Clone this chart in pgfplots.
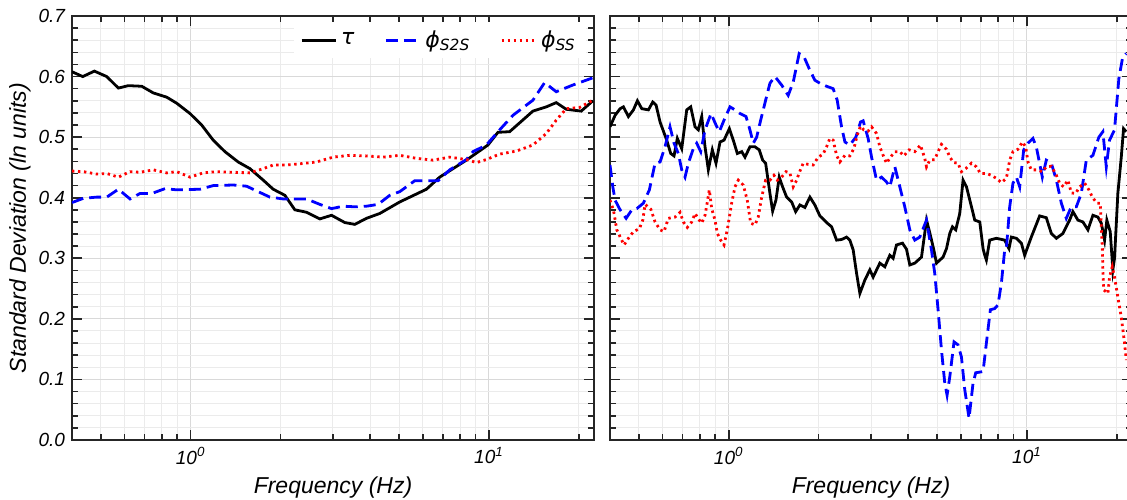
\documentclass[border=0pt]{standalone}
\usepackage{fontspec}
\setmainfont{Liberation Sans}
\newfontfamily\lgfont{DejaVu Sans}
\usepackage{pgfplots}
\pgfplotsset{compat=1.18}

\pgfplotsset{
  sdpanel/.style={
    scale only axis, width=261pt, height=212pt,
    xmin=0.4, xmax=22.5, ymin=0, ymax=0.7,
    xtick={1,10}, xticklabels={10\textsuperscript{0},10\textsuperscript{1}},
    minor xtick={0.4,0.5,0.6,0.7,0.8,0.9,2,3,4,5,6,7,8,9,20},
    ytick={0,0.1,0.2,0.3,0.4,0.5,0.6,0.7}, minor y tick num=4,
    tick align=inside, major tick length=5pt, minor tick length=3pt,
    grid=both,
    major grid style={gray!30, line width=0.5pt},
    minor grid style={gray!16, line width=0.5pt},
    axis line style={black!85, line width=1pt},
    tick style={black!85, line width=0.8pt},
    tick label style={font=\fontsize{9.5}{10}\selectfont\itshape},
    yticklabel style={/pgf/number format/fixed, /pgf/number format/fixed zerofill, /pgf/number format/precision=1, /pgf/number format/assume math mode=true},
    label style={font=\fontsize{11.5}{14}\selectfont\itshape},
    xlabel={Frequency (Hz)},
    xlabel style={at={(axis description cs:0.5,-0.111)}, anchor=center},
  },
  sdtau/.style={draw=black, line width=1.4pt},
  sds2s/.style={draw=blue, line width=1.4pt, dash pattern=on 6pt off 3pt},
  sdss/.style={draw=red, line width=1.4pt, dash pattern=on 1.2pt off 1.8pt},
}

\begin{document}
\begin{tikzpicture}
\path[use as bounding box] (-36pt,-29.5pt) rectangle (527.5pt,220pt);

\begin{semilogxaxis}[sdpanel, at={(0pt,0pt)}, anchor=south west,
  ylabel={Standard Deviation (ln units)},
  ylabel style={at={(axis description cs:-0.0996,0.5)}, anchor=center},
  legend style={at={(0.705,0.943)}, anchor=center, draw=none, fill=white,
    legend columns=3, font=\lgfont\fontsize{11}{13}\selectfont,
    /tikz/every even column/.append style={column sep=13pt}},
]
\addplot[sdtau] table {
0.40 0.608
0.4346 0.600
0.4755 0.609
0.5232 0.600
0.5722 0.581
0.6180 0.585
0.6853 0.584
0.7494 0.573
0.8310 0.566
0.8976 0.556
0.9947 0.539
1.0885 0.520
1.190 0.495
1.303 0.476
1.443 0.459
1.580 0.448
1.751 0.429
1.891 0.414
2.069 0.404
2.235 0.380
2.446 0.376
2.710 0.365
2.966 0.371
3.287 0.359
3.551 0.356
3.886 0.366
4.305 0.374
5.023 0.393
6.171 0.414
6.838 0.434
8.400 0.462
9.922 0.487
10.72 0.508
11.73 0.509
14.04 0.543
15.57 0.550
16.81 0.557
18.16 0.546
20.39 0.543
22.30 0.560
};
\addlegendentry{\itshape τ}
\addplot[sds2s] table {
0.40 0.392
0.4367 0.399
0.4844 0.401
0.5232 0.401
0.5722 0.414
0.6261 0.398
0.6765 0.407
0.7404 0.407
0.8202 0.415
0.8976 0.413
1.074 0.414
1.190 0.420
1.389 0.421
1.540 0.419
1.684 0.410
1.843 0.401
2.042 0.398
2.323 0.398
2.446 0.398
2.710 0.389
2.966 0.382
3.245 0.386
3.551 0.385
3.886 0.386
4.249 0.389
4.651 0.404
5.023 0.410
5.639 0.428
6.749 0.428
7.387 0.446
8.400 0.463
8.841 0.476
9.802 0.487
10.86 0.512
12.03 0.536
14.04 0.561
15.37 0.590
16.81 0.575
19.11 0.586
22.30 0.598
};
\addlegendentry{\itshape ϕ\textsubscript{S2S}}
\addplot[sdss] table {
0.40 0.444
0.4367 0.443
0.4844 0.439
0.5232 0.440
0.5722 0.434
0.6261 0.443
0.6765 0.442
0.7494 0.446
0.8310 0.441
0.8976 0.443
0.9947 0.434
1.102 0.441
1.222 0.443
1.389 0.442
1.580 0.441
1.751 0.448
1.891 0.454
2.097 0.454
2.323 0.456
2.642 0.459
3.003 0.467
3.417 0.470
3.886 0.469
4.416 0.467
5.023 0.470
5.713 0.465
6.494 0.462
7.387 0.467
8.400 0.463
9.076 0.458
9.802 0.463
10.86 0.472
12.35 0.477
14.04 0.487
15.57 0.506
16.81 0.528
18.16 0.547
20.13 0.549
22.30 0.561
};
\addlegendentry{\itshape ϕ\textsubscript{SS}}
\end{semilogxaxis}

\begin{semilogxaxis}[sdpanel, at={(269pt,0pt)}, anchor=south west, yticklabels={}]
\addplot[sdtau] table {
0.400 0.517
0.4160 0.536
0.4325 0.547
0.4436 0.550
0.4611 0.534
0.4792 0.545
0.4942 0.560
0.5112 0.547
0.5380 0.545
0.5565 0.558
0.5708 0.553
0.5887 0.525
0.6198 0.495
0.6393 0.473
0.6557 0.469
0.6727 0.498
0.6959 0.481
0.7233 0.545
0.7460 0.550
0.7713 0.517
0.7912 0.512
0.8121 0.534
0.8330 0.484
0.8545 0.446
0.8813 0.479
0.9067 0.457
0.9352 0.492
0.9645 0.495
1.005 0.514
1.036 0.495
1.069 0.473
1.106 0.476
1.134 0.467
1.178 0.484
1.225 0.484
1.266 0.479
1.300 0.462
1.330 0.457
1.375 0.407
1.404 0.378
1.440 0.396
1.477 0.434
1.516 0.418
1.564 0.401
1.626 0.393
1.677 0.377
1.733 0.388
1.801 0.384
1.872 0.401
1.945 0.388
2.022 0.370
2.129 0.359
2.213 0.352
2.300 0.330
2.390 0.331
2.484 0.335
2.548 0.330
2.614 0.314
2.684 0.275
2.753 0.242
2.861 0.264
2.973 0.281
3.050 0.269
3.212 0.292
3.338 0.286
3.469 0.305
3.559 0.300
3.653 0.322
3.826 0.325
3.946 0.315
4.048 0.289
4.207 0.292
4.430 0.302
4.605 0.363
4.723 0.342
4.872 0.314
4.974 0.292
5.234 0.302
5.373 0.316
5.510 0.341
5.626 0.352
5.771 0.347
5.952 0.374
6.106 0.429
6.269 0.418
6.516 0.385
6.684 0.363
6.947 0.360
7.126 0.316
7.220 0.305
7.311 0.297
7.501 0.330
7.897 0.333
8.421 0.330
8.704 0.316
8.867 0.335
9.216 0.333
9.578 0.325
9.824 0.305
10.34 0.335
11.03 0.370
11.61 0.367
12.07 0.341
12.55 0.333
13.20 0.341
13.90 0.363
14.26 0.377
14.82 0.363
15.40 0.360
16.01 0.347
16.64 0.371
17.29 0.368
17.75 0.358
18.21 0.330
18.53 0.363
19.02 0.344
19.41 0.281
19.66 0.300
20.17 0.407
20.71 0.467
21.08 0.514
21.52 0.509
};
\addplot[sds2s] table {
0.400 0.454
0.4088 0.418
0.4160 0.396
0.4325 0.380
0.4530 0.366
0.4733 0.380
0.4919 0.382
0.5176 0.391
0.5421 0.413
0.5664 0.457
0.5887 0.459
0.6117 0.484
0.6357 0.517
0.6557 0.490
0.6779 0.473
0.6959 0.446
0.7139 0.434
0.7324 0.457
0.7611 0.481
0.7814 0.490
0.8058 0.476
0.8330 0.512
0.8724 0.539
0.9067 0.520
0.9300 0.509
0.9645 0.528
1.010 0.550
1.050 0.545
1.091 0.539
1.143 0.534
1.178 0.512
1.209 0.490
1.241 0.500
1.280 0.528
1.330 0.561
1.375 0.589
1.429 0.600
1.505 0.586
1.583 0.569
1.646 0.591
1.723 0.638
1.787 0.633
1.862 0.613
1.945 0.594
2.022 0.589
2.129 0.584
2.240 0.580
2.311 0.561
2.390 0.517
2.453 0.492
2.548 0.487
2.669 0.500
2.767 0.525
2.823 0.527
2.934 0.498
3.013 0.467
3.131 0.429
3.254 0.434
3.382 0.426
3.469 0.418
3.606 0.451
3.748 0.418
3.894 0.385
4.048 0.347
4.207 0.330
4.372 0.335
4.605 0.363
4.723 0.330
4.784 0.314
4.908 0.275
5.035 0.215
5.168 0.149
5.302 0.094
5.397 0.074
5.510 0.104
5.695 0.162
5.874 0.157
6.031 0.137
6.187 0.083
6.395 0.036
6.596 0.094
6.734 0.111
7.126 0.113
7.311 0.160
7.540 0.215
7.796 0.217
7.997 0.223
8.209 0.259
8.421 0.314
8.531 0.316
8.752 0.385
8.976 0.424
9.216 0.434
9.454 0.418
9.750 0.479
10.08 0.490
10.47 0.498
10.75 0.484
11.26 0.434
11.61 0.462
12.07 0.457
12.55 0.429
13.04 0.391
13.55 0.366
14.08 0.385
14.64 0.385
15.21 0.407
15.81 0.462
16.64 0.470
17.42 0.500
17.97 0.509
18.45 0.451
18.92 0.495
19.66 0.512
20.33 0.597
20.96 0.633
21.52 0.638
};
\addplot[sdss] table {
0.400 0.396
0.4107 0.380
0.4215 0.347
0.4347 0.333
0.4460 0.322
0.4611 0.333
0.4792 0.344
0.5019 0.349
0.5152 0.363
0.5244 0.389
0.5480 0.381
0.5664 0.360
0.5887 0.347
0.6070 0.344
0.6274 0.366
0.6610 0.368
0.6869 0.376
0.7046 0.360
0.7266 0.351
0.7517 0.360
0.7713 0.374
0.7972 0.363
0.8121 0.358
0.8330 0.371
0.8479 0.393
0.8610 0.413
0.8771 0.382
0.8999 0.363
0.9158 0.341
0.9402 0.330
0.9645 0.322
0.9892 0.347
1.023 0.391
1.050 0.418
1.077 0.429
1.119 0.421
1.154 0.396
1.185 0.358
1.225 0.355
1.256 0.368
1.290 0.401
1.330 0.429
1.375 0.429
1.418 0.437
1.455 0.429
1.505 0.434
1.556 0.443
1.604 0.441
1.646 0.418
1.690 0.429
1.723 0.441
1.778 0.457
1.848 0.455
1.920 0.454
1.996 0.467
2.074 0.472
2.129 0.484
2.184 0.498
2.240 0.495
2.300 0.470
2.359 0.459
2.453 0.470
2.548 0.469
2.628 0.481
2.696 0.503
2.767 0.518
2.838 0.512
2.934 0.510
3.013 0.517
3.131 0.506
3.212 0.484
3.295 0.470
3.382 0.457
3.488 0.467
3.606 0.476
3.748 0.476
3.865 0.469
4.025 0.479
4.207 0.476
4.395 0.487
4.543 0.465
4.605 0.451
4.723 0.462
4.908 0.463
5.035 0.476
5.168 0.488
5.373 0.480
5.510 0.467
5.682 0.458
5.874 0.457
6.031 0.443
6.234 0.448
6.516 0.457
6.770 0.451
6.984 0.440
7.311 0.440
7.599 0.437
7.897 0.432
8.209 0.425
8.531 0.432
8.752 0.462
8.976 0.476
9.330 0.480
9.652 0.492
9.901 0.484
10.08 0.459
10.34 0.446
10.75 0.446
11.26 0.443
11.61 0.451
12.07 0.452
12.55 0.437
12.87 0.424
13.27 0.418
13.72 0.429
14.08 0.408
14.56 0.407
15.02 0.418
15.61 0.424
16.13 0.413
16.56 0.401
17.16 0.391
17.61 0.391
17.75 0.352
17.89 0.319
17.97 0.281
18.07 0.248
18.68 0.242
18.92 0.269
19.32 0.286
19.66 0.269
20.17 0.236
20.71 0.203
21.24 0.160
21.52 0.132
};
\end{semilogxaxis}
\end{tikzpicture}
\end{document}
